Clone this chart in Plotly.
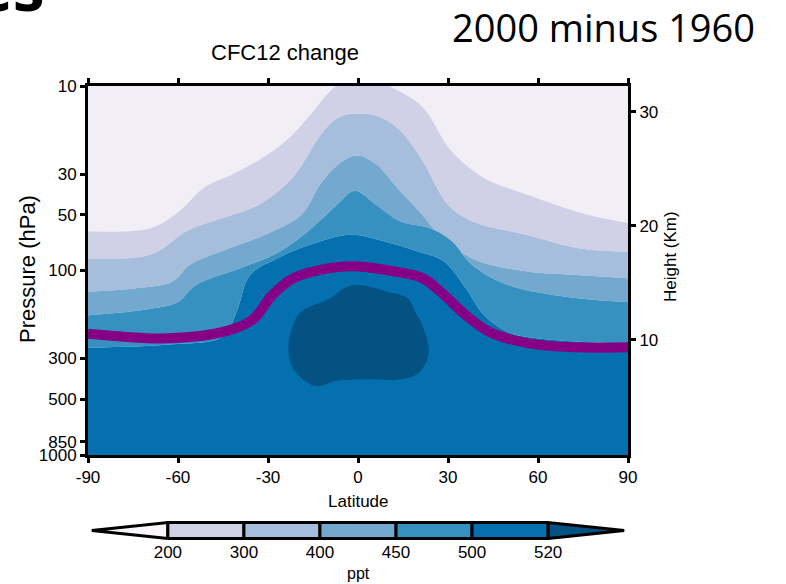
import plotly.graph_objects as go

# ---------------- data ----------------
LAT_TICKS = [-90, -60, -30, 0, 30, 60, 90]
P_TICKS = [10, 30, 50, 100, 300, 500, 850, 1000]
HEIGHT_TICKS = [10, 20, 30]

LEVELS = [200, 300, 400, 450, 500, 520]          # ppt contour levels
COLORS = ["#f1eef6", "#d0d1e6", "#a6bddb", "#74a9cf", "#3690c0", "#0570b0", "#045283"]

# contour boundaries: pressure (hPa) of each level at given latitudes
B200_LAT = [-90, -69, -59.6, -51.3, -41.7, -33.4, -23.8, -15.5, -8.3, 0, 11.9, 21.5, 31.0, 41.7, 56.0, 76.3, 90]
B200_P = [61.3, 58.8, 47.7, 35.5, 30.0, 25.4, 19.7, 14.1, 10.3, 8.5, 10.3, 13.0, 22.4, 31.3, 38.6, 49.7, 55.2]

B300_LAT = [-90, -69, -57, -45, -33, -21.5, -12, -6, 0, 7, 14, 21.5, 30, 38, 56, 74, 90]
B300_P = [86, 82, 61, 52, 44, 31, 18, 14.7, 14.1, 14.7, 17.4, 25.4, 44, 54, 64, 76, 79]

B400_LAT = [-90, -75, -62, -56, -43, -31, -19, -12, -5, 0, 6, 13, 21.5, 26, 38, 56, 74, 90]
B400_P = [130, 125, 115, 93, 76, 64, 50, 33, 25.4, 23.8, 26.5, 35.5, 50, 61, 86, 101, 106, 110]

B450_LAT = [-90, -69, -60, -54, -39, -26, -15.5, -7, -1, 6, 14, 24, 31, 38, 50, 74, 90]
B450_P = [175, 161, 148, 120, 97, 79, 59, 44, 37, 44, 54, 59, 69, 93, 120, 142, 148]

B500_LAT = [-90, -63, -45, -40.5, -36, -27, -15.5, -2.4, 8, 20, 28.6, 36, 42, 50, 62, 90]
B500_P = [262, 252, 228, 168, 106, 86, 72, 64, 69, 79, 89, 125, 175, 216, 235, 250]

# closed region above 520 ppt
B520_LAT = [0, -4.8, -9.5, -19.1, -22.1, -23.2, -21.5, -14.3, -7.2, 2.4, 14.3, 20.3, 23.6, 21.5, 19.1, 16.7, 9.5, 0]
B520_P = [120, 125, 142, 168, 207, 266, 343, 423, 397, 389, 389, 358, 278, 199, 168, 142, 130, 120]

# tropopause (purple line)
TROP_LAT = [-90, -63, -43, -35, -28.6, -21.5, -9.5, 0, 12, 21.5, 27.4, 36, 44, 58, 74, 90]
TROP_P = [220, 233, 211, 184, 136, 110, 97, 95, 101, 110, 130, 175, 216, 250, 261, 261]

TOP_P = 10
BOTTOM_P = 1000
CBAR_LABELS = [str(v) for v in LEVELS]

FONT = "Liberation Sans, Arial, sans-serif"

fig = go.Figure()

# top edge line (reference for first tonexty fill)
fig.add_trace(go.Scatter(x=[LAT_TICKS[0], LAT_TICKS[-1]], y=[TOP_P, TOP_P], mode="lines",
                         line=dict(width=0), hoverinfo="skip", showlegend=False))

bounds = [(B200_LAT, B200_P), (B300_LAT, B300_P), (B400_LAT, B400_P),
          (B450_LAT, B450_P), (B500_LAT, B500_P)]
for i, (lat, p) in enumerate(bounds):
    fig.add_trace(go.Scatter(x=lat, y=p, mode="lines", fill="tonexty",
                             fillcolor=COLORS[i], line=dict(width=0, shape="spline", smoothing=1),
                             hoverinfo="skip", showlegend=False))

# 500-520 band down to the bottom of the plot
fig.add_trace(go.Scatter(x=[LAT_TICKS[0], LAT_TICKS[-1]], y=[BOTTOM_P, BOTTOM_P], mode="lines",
                         fill="tonexty", fillcolor=COLORS[5], line=dict(width=0),
                         hoverinfo="skip", showlegend=False))

fig.add_trace(go.Scatter(x=B520_LAT, y=B520_P, mode="lines", fill="toself",
                         fillcolor=COLORS[6], line=dict(width=0, shape="spline", smoothing=1),
                         hoverinfo="skip", showlegend=False))

fig.add_trace(go.Scatter(x=TROP_LAT, y=TROP_P, mode="lines",
                         line=dict(width=10, color="#860086", shape="spline", smoothing=1),
                         hoverinfo="skip", showlegend=False))

# dummy trace for the right-hand height axis
fig.add_trace(go.Scatter(x=[None], y=[None], yaxis="y2", showlegend=False, hoverinfo="skip"))

# ---------------- colour bar with triangular ends ----------------
n = len(LEVELS)
cb_pieces = []
cb_pieces.append(([1, 0, 1, 1], [0, 0.5, 1, 0], "#f8f6fb"))
for i in range(1, n):
    cb_pieces.append(([i, i + 1, i + 1, i, i], [0, 0, 1, 1, 0], COLORS[i]))
cb_pieces.append(([n, n + 1, n, n], [0, 0.5, 1, 0], COLORS[6]))
for xs, ys, col in cb_pieces:
    fig.add_trace(go.Scatter(x=xs, y=ys, mode="lines", fill="toself", fillcolor=col,
                             line=dict(color="black", width=3), xaxis="x3", yaxis="y3",
                             hoverinfo="skip", showlegend=False))

W, H = 786, 584
ML, MR, MT, MB = 88, 158, 86, 10
PW, PH = W - ML - MR, H - MT - MB


def px_x(x):
    return (x - ML) / PW


def px_y(y):
    return (H - MB - y) / PH


axis_common = dict(ticks="outside", ticklen=5, tickwidth=3, tickcolor="black",
                   showline=True, linewidth=3, linecolor="black", showgrid=False,
                   zeroline=False, automargin=False,
                   tickfont=dict(family=FONT, size=17, color="black"))

fig.update_layout(
    width=W, height=H,
    margin=dict(l=ML, r=MR, t=MT, b=MB, autoexpand=False),
    paper_bgcolor="white",
    plot_bgcolor="white",
    xaxis=dict(domain=[0, 1], range=[-90, 90], tickvals=LAT_TICKS,
               ticktext=[str(v) for v in LAT_TICKS], mirror="ticks",
               anchor="y", **axis_common),
    yaxis=dict(domain=[px_y(455), 1], type="log", range=[3, 1], tickvals=P_TICKS,
               ticktext=[str(v) for v in P_TICKS], anchor="x", **axis_common),
    yaxis2=dict(overlaying="y", side="right", range=[-0.09, 32.28], tickvals=HEIGHT_TICKS,
                anchor="x", **axis_common),
    xaxis3=dict(domain=[0, 1], range=[-0.05, n + 1.05], anchor="y3", tickvals=list(range(1, n + 1)),
                ticktext=CBAR_LABELS, showgrid=False, zeroline=False, showline=False, ticks="",
                automargin=False, tickfont=dict(family=FONT, size=17, color="black")),
    yaxis3=dict(domain=[px_y(540), px_y(521)], range=[-0.1, 1.1], visible=False, anchor="x3"),
    showlegend=False,
)

ann = [
    dict(text="CFC12 change", x=px_x(284.5), y=px_y(53), font=dict(family=FONT, size=22, color="black")),
    dict(text="2000 minus 1960", x=px_x(603), y=px_y(27), font=dict(family="Open Sans", size=38, color="black")),
    dict(text="Pressure (hPa)", x=px_x(27), y=px_y(269), textangle=-90, font=dict(family=FONT, size=22, color="black")),
    dict(text="Height (Km)", x=px_x(670), y=px_y(257), textangle=-90, font=dict(family=FONT, size=17, color="black")),
    dict(text="Latitude", x=px_x(358), y=px_y(501), font=dict(family=FONT, size=17, color="black")),
    dict(text="ppt", x=px_x(358), y=px_y(573), font=dict(family=FONT, size=16, color="black")),
    dict(text="<b>es</b>", x=px_x(47), y=px_y(32), xanchor="right", yanchor="bottom",
         font=dict(family="Open Sans", size=64, color="black")),
]
for a in ann:
    a.setdefault("xanchor", "center")
    a.setdefault("yanchor", "middle")
    fig.add_annotation(xref="paper", yref="paper", showarrow=False, **a)

fig.write_html("out.html")
